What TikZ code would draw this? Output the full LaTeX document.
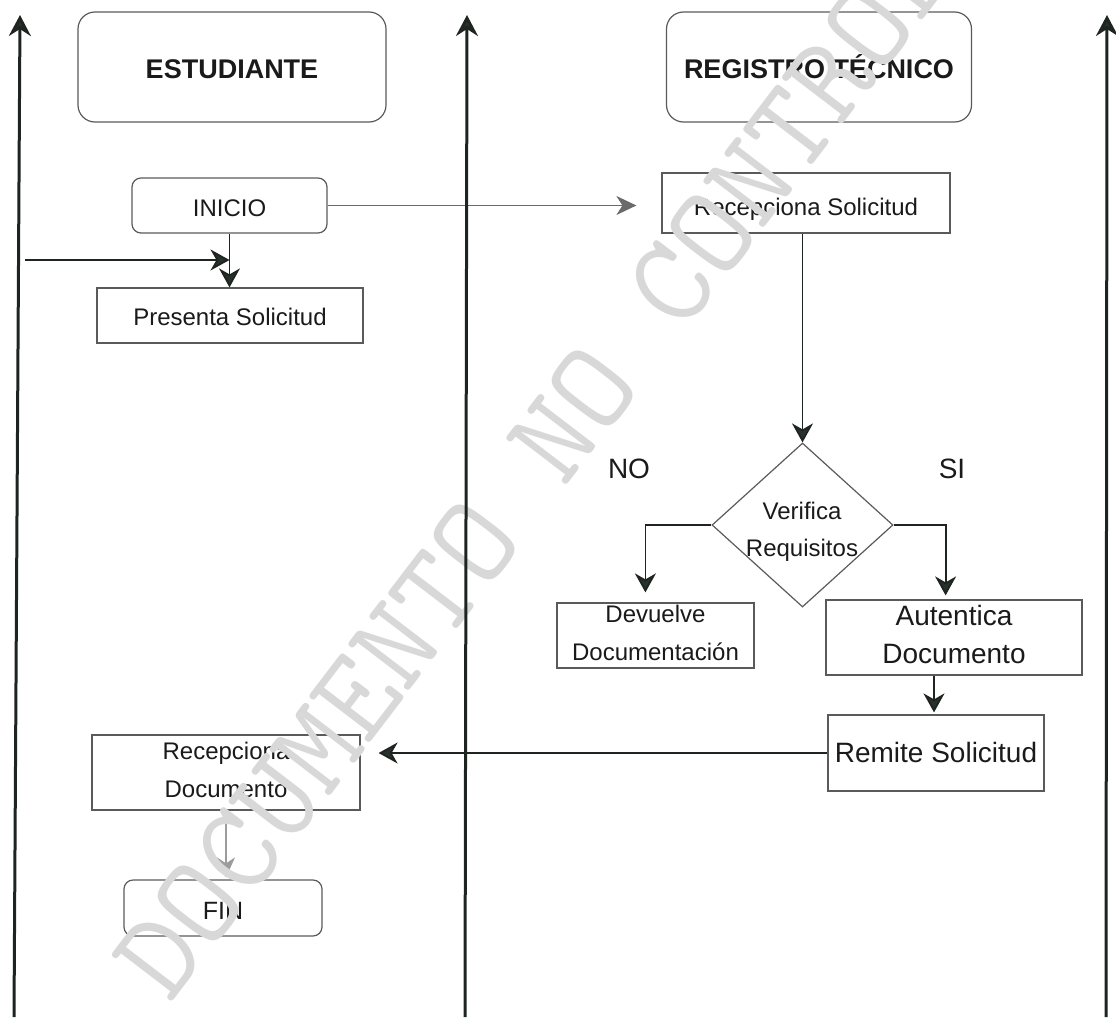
\documentclass[tikz,border=0pt]{standalone}
\usepackage{fontspec}
\setmainfont{Liberation Sans}
\usetikzlibrary{arrows.meta,shapes.geometric,calc}

\definecolor{ink}{HTML}{1E2420}
\definecolor{headc}{HTML}{27322C}
\definecolor{txt}{HTML}{1A1A1A}
\definecolor{boxline}{HTML}{5A5A5A}
\definecolor{softline}{HTML}{6A6A6A}
\definecolor{paleline}{HTML}{9C9C9C}
\definecolor{stampgray}{HTML}{D8D8D8}

\begin{document}
\begin{tikzpicture}[x=1pt,y=-1pt,
  lane/.style={line width=3pt, draw=ink, -{Stealth[length=21pt,width=22pt,inset=7pt,fill=headc]}},
  % a zero-width strut that sets where the text sits inside its box
  textdrop/.style={execute at begin node={\rule[-6pt]{0pt}{#1}}},
  box/.style={draw=boxline, line width=1.2pt, inner sep=0pt, align=center, text=txt,
              font=\fontsize{24}{38}\selectfont},
  roundbox/.style={box, rounded corners=9pt},
  headbox/.style={box, rounded corners=17pt, font=\bfseries\fontsize{27}{32}\selectfont, textdrop=34pt},
  flow/.style={line width=1.8pt, draw=ink, -{Stealth[length=19pt,width=21pt,inset=6pt,fill=headc]}},
  thinflow/.style={line width=1.2pt, draw=softline, -{Stealth[length=20pt,width=19pt,inset=6pt,fill=softline]}},
  paleflow/.style={line width=1.1pt, draw=paleline, -{Stealth[length=20pt,width=18pt,inset=6pt,fill=paleline]}},
  lbl/.style={text=txt, inner sep=0pt, font=\fontsize{28}{30}\selectfont}
]
\useasboundingbox (0,0) rectangle (1116,1017);

% lane headers
\node[headbox, minimum width=308pt, minimum height=110pt] (est) at (232,67) {ESTUDIANTE};
\node[headbox, minimum width=305pt, minimum height=110pt] (reg) at (819,67) {REGISTRO TÉCNICO};

% student lane
\node[roundbox, textdrop=33pt, minimum width=195pt, minimum height=55pt] (inicio) at (229.5,205.5) {INICIO};
\node[box, textdrop=32pt, minimum width=266pt, minimum height=55pt] (pres) at (230,315.5) {Presenta Solicitud};
\node[box, textdrop=27pt, minimum width=268pt, minimum height=75pt] (recdoc) at (226,772.5) {Recepciona\\Documento};
\node[roundbox, textdrop=35pt, minimum width=198pt, minimum height=56pt, font=\fontsize{25}{30}\selectfont] (fin) at (223,908) {FIN};

% registry lane
\node[box, textdrop=36pt, minimum width=288pt, minimum height=60pt] (recsol) at (806,203) {Recepciona Solicitud};
\node[diamond, draw=boxline, line width=1.2pt, inner sep=0pt,
      minimum width=181pt, minimum height=164pt] (dia) at (802.5,525) {};
\node[text=txt, align=center, inner sep=0pt, font=\fontsize{24}{37}\selectfont] (diatxt) at (802,532) {Verifica\\Requisitos};
\node[box, textdrop=24pt, minimum width=197pt, minimum height=65pt] (dev) at (655.5,635.5) {Devuelve\\Documentación};
\node[box, textdrop=25pt, minimum width=256pt, minimum height=75pt, font=\fontsize{28}{38}\selectfont] (aut) at (954,637.5) {Autentica\\Documento};
\node[box, textdrop=30pt, minimum width=216pt, minimum height=76pt, font=\fontsize{28}{34}\selectfont] (rem) at (936,753) {Remite Solicitud};

% branch labels
\node[lbl] (lno) at (629,469) {NO};
\node[lbl] (lsi) at (952,469) {SI};

% connectors
\coordinate (ext) at (25,260);
\draw[flow] (inicio.south) -- (inicio.south |- pres.north);
\draw[flow] (ext) -- (ext -| inicio.south);
\draw[thinflow, shorten >=25pt] (inicio.east) -- (inicio.east -| recsol.west);
\draw[flow] (dia.north |- recsol.south) -- (dia.north);
\draw[flow, shorten >=10pt] (dia.west) -- ++(-66,0) coordinate (nbend) -- (nbend |- dev.north);
\draw[flow, shorten >=4pt] (dia.east) -- ++(52,0) coordinate (sbend) -- (sbend |- aut.north);
\draw[flow, shorten >=2pt] ([xshift=-20pt]aut.south) -- ([xshift=-20pt]aut.south |- rem.north);
\draw[flow, shorten >=18pt] (rem.west) -- (rem.west -| recdoc.east);
\draw[paleflow, shorten >=2pt] (recdoc.south) -- (recdoc.south |- fin.north);

% diagonal stamp across the sheet
\node[text=stampgray, inner sep=0pt, rotate=52.6, font=\ttfamily\fontsize{126}{126}\selectfont] (stamp)
  at (593,388) {DOCUMENTO NO CONTROLADO};

% lane boundaries
\coordinate (l1b) at (14,1017);  \coordinate (l1t) at (20,15);
\coordinate (l2b) at (465,1017); \coordinate (l2t) at (467,15);
\coordinate (l3b) at (1106,1017); \coordinate (l3t) at (1107,15);
\draw[lane] (l1b) -- (l1t);
\draw[lane] (l2b) -- (l2t);
\draw[lane] (l3b) -- (l3t);
\end{tikzpicture}
\end{document}
